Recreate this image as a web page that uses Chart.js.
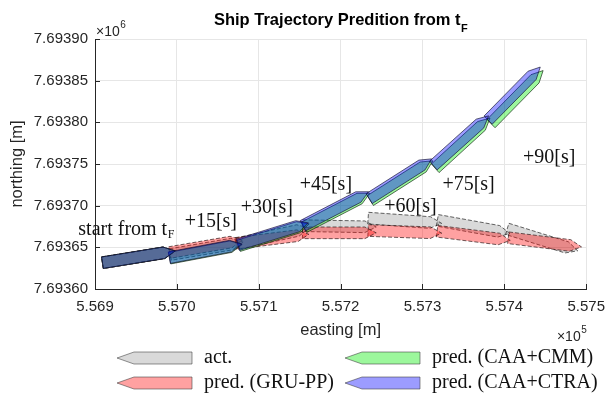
<!DOCTYPE html>
<html>
<head>
<meta charset="utf-8">
<title>Ship Trajectory Predition</title>
<script src="https://cdn.jsdelivr.net/npm/chart.js@4.4.1/dist/chart.umd.min.js"></script>
<style>
  html, body { margin: 0; padding: 0; background: #fff; }
  #wrap { width: 614px; height: 397px; }
</style>
</head>
<body>
<div id="wrap"><canvas id="shipChart" width="614" height="397"></canvas></div>
<script>
// seconds after t_F for each drawn hull
const steps = [0, 15, 30, 45, 60, 75, 90];

// hull centre (easting / northing, m) and heading (deg from north) per step
const actEast   = [556953.5, 557036.5, 557117.5, 557198.5, 557278.5, 557362.5, 557446.5];
const actNorth  = [7693638.6, 7693648.8, 7693663.8, 7693675.2, 7693681.9, 7693674.6, 7693659.0];
const actHead   = [81, 80.5, 78, 91, 94, 100, 107];

const gruEast   = [556953.5, 557035.5, 557116.5, 557198.5, 557278.5, 557362.5, 557449.5];
const gruNorth  = [7693638.6, 7693651.2, 7693660.2, 7693667.4, 7693668.6, 7693663.8, 7693656.0];
const gruHead   = [81, 80.5, 83, 90, 92, 97, 97];

const cmmEast   = [556953.5, 557035.5, 557118.5, 557195.5, 557274.5, 557349.0, 557415.5];
const cmmNorth  = [7693638.6, 7693645.2, 7693665.0, 7693694.5, 7693730.0, 7693775.0, 7693830.3];
const cmmHead   = [81, 79.5, 73, 63, 58, 48, 45];

const ctraEast  = [556953.5, 557035.0, 557117.5, 557194.0, 557273.0, 557347.0, 557412.0];
const ctraNorth = [7693638.6, 7693645.8, 7693666.2, 7693696.3, 7693732.3, 7693778.0, 7693834.5];
const ctraHead  = [81, 79.5, 73, 63, 58, 48.5, 45];

// axis ticks
const xTicks = [556900, 557000, 557100, 557200, 557300, 557400, 557500];
const yTicks = [7693600, 7693650, 7693700, 7693750, 7693800, 7693850, 7693900];

// time step annotations (left edge, vertical middle)
const stepText  = ['start from t', '+15[s]', '+30[s]', '+45[s]', '+60[s]', '+75[s]', '+90[s]'];
const stepEast  = [556879.6, 557009.5, 557077.9, 557150.0, 557253.4, 557324.3, 557422.8];
const stepNorth = [7693671.0, 7693680.7, 7693697.5, 7693725.1, 7693698.7, 7693725.1, 7693757.6];

// hull outline size [m]
const SHIP_LEN = 90, SHIP_BEAM = 14, BOW_LEN = 14;

function hull(e, n, hdg) {
    const r = hdg * Math.PI / 180;
    const fx = Math.sin(r), fy = Math.cos(r);   // forward
    const sx = Math.cos(r), sy = -Math.sin(r);  // starboard
    const h = SHIP_LEN / 2, b = SHIP_BEAM / 2;
    const pts = [[-h, -b], [h - BOW_LEN, -b], [h, 0], [h - BOW_LEN, b], [-h, b], [-h, -b]];
    return pts.map(([u, v]) => ({ x: e + u * fx + v * sx, y: n + u * fy + v * sy }));
}

const series = [
    { label: 'act.',              east: actEast,  north: actNorth,  head: actHead,  fill: 'rgba(0,0,0,0.15)',    edge: 'rgba(30,30,30,0.85)', dash: [4, 2], order: 3 },
    { label: 'pred. (GRU-PP)',    east: gruEast,  north: gruNorth,  head: gruHead,  fill: 'rgba(255,0,0,0.37)',  edge: 'rgba(40,20,20,0.85)', dash: [4, 2], order: 2 },
    { label: 'pred. (CAA+CMM)',   east: cmmEast,  north: cmmNorth,  head: cmmHead,  fill: 'rgba(0,235,0,0.39)',  edge: 'rgba(20,40,20,0.85)', dash: [],     order: 1 },
    { label: 'pred. (CAA+CTRA)',  east: ctraEast, north: ctraNorth, head: ctraHead, fill: 'rgba(0,0,255,0.39)',  edge: 'rgba(20,20,50,0.85)', dash: [],     order: 0 }
];

const datasets = [];
series.forEach(s => {
    steps.forEach((t, i) => {
        datasets.push({
            label: s.label + ' ' + t + 's',
            data: hull(s.east[i], s.north[i], s.head[i]),
            fill: 'shape',
            backgroundColor: s.fill,
            borderColor: s.edge,
            borderWidth: 0.8,
            borderDash: s.dash,
            pointRadius: 0,
            tension: 0,
            order: s.order
        });
    });
});

const SANS = '"Liberation Sans", Arial, Helvetica, sans-serif';
const SERIF = '"Liberation Serif", "Times New Roman", serif';
const AXIS_COLOR = '#262626';

// title, inward ticks, exponents, step labels and legend
const decorations = {
    id: 'decorations',
    afterDraw(chart) {
        const { ctx, chartArea: a, scales: { x, y } } = chart;
        ctx.save();

        ctx.strokeStyle = AXIS_COLOR;
        ctx.lineWidth = 1;
        ctx.beginPath();
        xTicks.forEach(v => {
            const px = Math.round(x.getPixelForValue(v)) + 0.5;
            ctx.moveTo(px, a.bottom);
            ctx.lineTo(px, a.bottom - 5);
        });
        yTicks.forEach(v => {
            const py = Math.round(y.getPixelForValue(v)) + 0.5;
            ctx.moveTo(a.left, py);
            ctx.lineTo(a.left + 5, py);
        });
        ctx.stroke();

        // title with subscript
        ctx.fillStyle = '#000';
        ctx.textAlign = 'left';
        ctx.textBaseline = 'alphabetic';
        const main = 'Ship Trajectory Predition from t';
        ctx.font = 'bold 16.5px ' + SANS;
        const w1 = ctx.measureText(main).width;
        ctx.font = 'bold 11px ' + SANS;
        const w2 = ctx.measureText('F').width;
        const tx = (a.left + a.right) / 2 - (w1 + w2) / 2;
        ctx.font = 'bold 16.5px ' + SANS;
        ctx.fillText(main, tx, 25);
        ctx.font = 'bold 11px ' + SANS;
        ctx.fillText('F', tx + w1 + 0.5, 32);

        // axis exponents
        ctx.fillStyle = AXIS_COLOR;
        ctx.font = '14px ' + SANS;
        const wx = ctx.measureText('\u00d710').width;
        ctx.fillText('\u00d710', a.left + 1, 36);
        ctx.font = '10px ' + SANS;
        ctx.fillText('6', a.left + 1 + wx + 0.5, 28);
        ctx.font = '10px ' + SANS;
        const w5 = ctx.measureText('5').width;
        ctx.font = '14px ' + SANS;
        const ex = a.right - w5 - wx;
        ctx.fillText('\u00d710', ex, 341);
        ctx.font = '10px ' + SANS;
        ctx.fillText('5', ex + wx + 0.5, 333);

        // step annotations
        ctx.fillStyle = '#111';
        ctx.textBaseline = 'middle';
        stepText.forEach((txt, i) => {
            const px = x.getPixelForValue(stepEast[i]);
            const py = y.getPixelForValue(stepNorth[i]);
            ctx.font = '20px ' + SERIF;
            ctx.fillText(txt, px, py);
            if (i === 0) {
                const w = ctx.measureText(txt).width;
                ctx.font = '12px ' + SERIF;
                ctx.fillText('F', px + w + 0.5, py + 5);
            }
        });

        // legend, two columns
        const cols = [117, 345];
        const rows = [358, 383];
        const place = [[0, 0], [0, 1], [1, 0], [1, 1]];
        ctx.font = '20px ' + SERIF;
        series.forEach((s, k) => {
            const x0 = cols[place[k][0]];
            const cy = rows[place[k][1]];
            ctx.beginPath();
            ctx.moveTo(x0, cy);
            ctx.lineTo(x0 + 17, cy - 6);
            ctx.lineTo(x0 + 75, cy - 6);
            ctx.lineTo(x0 + 75, cy + 6);
            ctx.lineTo(x0 + 17, cy + 6);
            ctx.closePath();
            ctx.fillStyle = s.fill;
            ctx.fill();
            ctx.strokeStyle = 'rgba(60,60,60,0.7)';
            ctx.lineWidth = 0.8;
            ctx.stroke();
            ctx.fillStyle = '#111';
            ctx.fillText(s.label, x0 + 87, cy);
        });

        ctx.restore();
    }
};

new Chart(document.getElementById('shipChart'), {
    type: 'line',
    data: { datasets: datasets },
    options: {
        responsive: false,
        animation: false,
        devicePixelRatio: 1,
        layout: { padding: { top: 39, right: 20, bottom: 0, left: 0 } },
        plugins: {
            legend: { display: false },
            tooltip: { enabled: false },
            title: { display: false }
        },
        scales: {
            x: {
                type: 'linear',
                min: 556900,
                max: 557500,
                afterBuildTicks: s => { s.ticks = xTicks.map(v => ({ value: v })); },
                afterFit: s => { s.height = 108; },
                grid: { color: '#e6e6e6', drawTicks: false },
                border: { color: AXIS_COLOR },
                ticks: {
                    padding: 9,
                    color: AXIS_COLOR,
                    maxRotation: 0,
                    autoSkip: false,
                    font: { family: SANS, size: 15 },
                    callback: v => (v / 1e5).toFixed(3)
                },
                title: {
                    display: true,
                    text: 'easting [m]',
                    color: AXIS_COLOR,
                    font: { family: SANS, size: 16.5 },
                    padding: { top: 0, bottom: 57 }
                }
            },
            y: {
                type: 'linear',
                min: 7693600,
                max: 7693900,
                afterBuildTicks: s => { s.ticks = yTicks.map(v => ({ value: v })); },
                afterFit: s => { s.width = 95; },
                grid: { color: '#e6e6e6', drawTicks: false },
                border: { color: AXIS_COLOR },
                ticks: {
                    padding: 7,
                    color: AXIS_COLOR,
                    font: { family: SANS, size: 15 },
                    callback: v => (v / 1e6).toFixed(5)
                },
                title: {
                    display: true,
                    text: 'northing [m]',
                    color: AXIS_COLOR,
                    font: { family: SANS, size: 16.5 },
                    padding: { top: 7.6, bottom: 0 }
                }
            }
        }
    },
    plugins: [decorations]
});
</script>
</body>
</html>
